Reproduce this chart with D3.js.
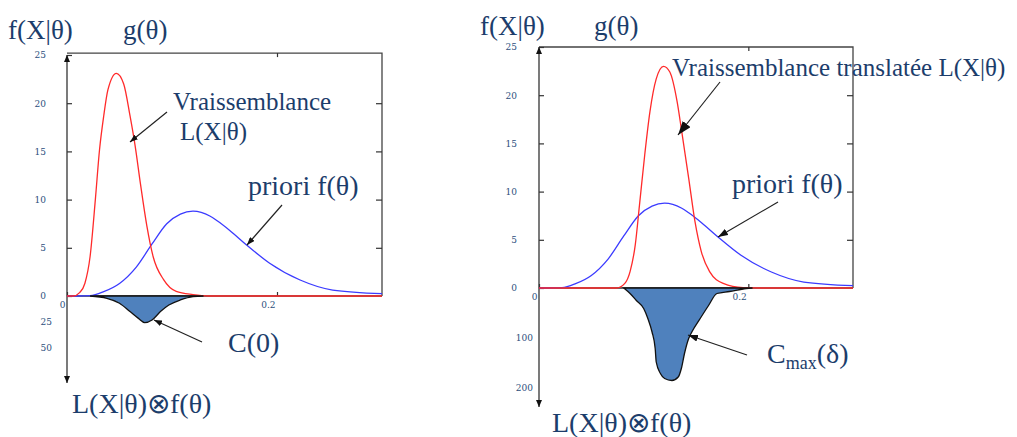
<!DOCTYPE html>
<html>
<head>
<meta charset="utf-8">
<script src="https://cdn.jsdelivr.net/npm/d3@7"></script>
<style>
body { margin: 0; background: #fff; }
svg { display: block; }
</style>
</head>
<body>
<svg id="chart" width="1017" height="437"></svg>
<script>
// values (theta, density)
var priorTheta = [0, 0.01, 0.022, 0.035, 0.05, 0.066, 0.081, 0.095, 0.108, 0.12, 0.136, 0.143, 0.155, 0.171, 0.193, 0.222, 0.253, 0.3];
var priorVal   = [0, 0, 0.03, 0.45, 1.3, 3.0, 5.4, 7.5, 8.5, 8.8, 8.3, 7.8, 6.8, 5.3, 3.4, 1.66, 0.62, 0.25];

var likLTheta = [0, 0.006, 0.012, 0.017, 0.022, 0.027, 0.031, 0.035, 0.039, 0.047, 0.054, 0.06, 0.065, 0.07, 0.076, 0.082, 0.092, 0.104, 0.12, 0.135, 0.3];
var likLVal   = [0, 0, 0.35, 1.3, 4.1, 10, 15.2, 18.7, 21.4, 23.1, 22.0, 18.7, 15.5, 11.6, 7.3, 4.1, 1.7, 0.48, 0.14, 0, 0];

var likRTheta = [0, 0.074, 0.082, 0.087, 0.092, 0.096, 0.101, 0.106, 0.112, 0.119, 0.125, 0.132, 0.136, 0.143, 0.149, 0.155, 0.163, 0.176, 0.195, 0.21, 0.3];
var likRVal   = [0, 0, 0.48, 1.7, 4.5, 8.6, 13.8, 18.3, 21.7, 23, 22.4, 19.3, 16.5, 11.4, 6.9, 3.8, 1.7, 0.48, 0.03, 0, 0];

// product L x f, drawn downward
var convLTheta = [0.022, 0.038, 0.05, 0.06, 0.068, 0.074, 0.081, 0.089, 0.097, 0.108, 0.12, 0.13];
var convLVal   = [0, 2.2, 7, 15, 21.5, 25.6, 23, 15, 8.7, 3.8, 0.6, 0];

var convRTheta = [0.081, 0.087, 0.093, 0.1, 0.104, 0.108, 0.111, 0.112, 0.116, 0.12, 0.127, 0.133, 0.136, 0.139, 0.143, 0.146, 0.154, 0.162, 0.17, 0.182, 0.198, 0.204];
var convRVal   = [0, 11, 25, 41, 61, 88, 121, 148, 171, 181, 185, 178, 161, 131, 101, 88, 61, 35, 11, 7, 1, 0];

var upTicks = [0, 5, 10, 15, 20, 25];

var navy = "#1c3d6b";
var svg = d3.select("#chart");
var defs = svg.append("defs");

function marker(id, len, wid) {
  defs.append("marker")
      .attr("id", id)
      .attr("viewBox", "0 0 " + len + " " + wid)
      .attr("refX", len).attr("refY", wid / 2)
      .attr("markerWidth", len).attr("markerHeight", wid)
      .attr("markerUnits", "userSpaceOnUse")
      .attr("orient", "auto")
    .append("path")
      .attr("d", "M0,0L" + len + "," + wid / 2 + "L0," + wid + "Z")
      .attr("fill", "#111");
}
marker("ah-s", 8, 6);
marker("ah-m", 10, 7);
marker("ah-l", 14, 10);
marker("ah-ax", 7, 6);

var panels = [
  {
    left: 67, right: 382, base: 296, top: 55, frameMax: 25.2,
    downMax: 50, downEnd: 348, downTicks: [25, 50], arrowEnd: 383,
    padUp: 21, padDown: 15,
    lik: [likLTheta, likLVal], conv: [convLTheta, convLVal],
    arrows: [[167, 112, 130, 142, "ah-s"], [282, 205, 247, 245, "ah-s"], [202, 342, 154, 320, "ah-s"]],
    texts: [
      ["f(X|θ)", 8, 39, 27], ["g(θ)", 123, 39, 27],
      ["Vraissemblance", 173, 110, 25], ["L(X|θ)", 180, 140, 25],
      ["priori f(θ)", 248, 195, 28], ["C(0)", 228, 352, 28],
      ["L(X|θ)⊗f(θ)", 72, 413, 28]
    ]
  },
  {
    left: 539, right: 853, base: 288, top: 47, frameMax: 25,
    downMax: 200, downEnd: 388, downTicks: [100, 200], arrowEnd: 407,
    padUp: 22, padDown: 6,
    lik: [likRTheta, likRVal], conv: [convRTheta, convRVal],
    arrows: [[720, 82, 678, 135, "ah-l"], [778, 202, 718, 237, "ah-m"], [747, 355, 688, 335, "ah-m"]],
    texts: [
      ["f(X|θ)", 480, 35, 27], ["g(θ)", 594, 35, 27],
      ["Vraissemblance translatée L(X|θ)", 672, 76, 25],
      ["priori f(θ)", 732, 193, 28],
      ["L(X|θ)⊗f(θ)", 552, 432, 28]
    ],
    cmax: [767, 363]
  }
];

function styleTicks(sel) {
  sel.select(".domain").remove();
  sel.selectAll(".tick line").attr("stroke", "#333").attr("stroke-width", 1.2);
  sel.selectAll(".tick text")
      .attr("fill", "#2c4f7c")
      .style("font-family", "'DejaVu Serif', serif")
      .style("font-size", "9px");
}

panels.forEach(function(p) {
  var x = d3.scaleLinear().domain([0, 0.3]).range([p.left, p.right]);
  var y = d3.scaleLinear().domain([0, 25]).range([p.base, p.top]);
  var yd = d3.scaleLinear().domain([0, p.downMax]).range([p.base, p.downEnd]);
  var g = svg.append("g");

  // frame: top and right sides
  g.append("path")
      .attr("d", "M" + p.left + "," + y(p.frameMax) + "H" + p.right + "V" + p.base)
      .attr("fill", "none").attr("stroke", "#444").attr("stroke-width", 1.3);

  // upward density ticks
  g.append("g").attr("transform", "translate(" + p.left + ",0)")
      .call(d3.axisLeft(y).tickValues(upTicks).tickSize(-5).tickPadding(p.padUp))
      .call(styleTicks);
  // right side ticks
  g.append("g").attr("transform", "translate(" + p.right + ",0)")
      .call(d3.axisLeft(y).tickValues(upTicks.slice(1, 5)).tickSize(6).tickFormat(""))
      .call(styleTicks);
  // downward scale for the product
  g.append("g").attr("transform", "translate(" + p.left + ",0)")
      .call(d3.axisLeft(yd).tickValues(p.downTicks).tickSize(0).tickPadding(p.padDown))
      .call(styleTicks);
  // theta axis
  g.append("g").attr("transform", "translate(0," + p.base + ")")
      .call(d3.axisBottom(x).tickValues([0, 0.2]).tickSize(-4).tickPadding(6)
        .tickFormat(function(d) { return d === 0 ? "0" : d3.format(".1f")(d); }))
      .call(styleTicks)
    .selectAll("text").attr("text-anchor", "end").attr("dx", -2);
  g.append("g").attr("transform", "translate(0," + y(p.frameMax) + ")")
      .call(d3.axisBottom(x).tickValues([0.2]).tickSize(4).tickFormat(""))
      .call(styleTicks);

  // axes lines
  g.append("line")
      .attr("x1", p.left).attr("x2", p.right).attr("y1", p.base).attr("y2", p.base)
      .attr("stroke", "#333").attr("stroke-width", 1.3);
  g.append("line")
      .attr("x1", p.left).attr("x2", p.left).attr("y1", p.base).attr("y2", y(25))
      .attr("stroke", "#333").attr("stroke-width", 1.3).attr("marker-end", "url(#ah-ax)");
  g.append("line")
      .attr("x1", p.left).attr("x2", p.left).attr("y1", p.base).attr("y2", p.arrowEnd)
      .attr("stroke", "#333").attr("stroke-width", 1.3).attr("marker-end", "url(#ah-ax)");

  var line = d3.line()
      .x(function(d) { return x(d[0]); })
      .y(function(d) { return y(d[1]); })
      .curve(d3.curveMonotoneX);

  g.append("path")
      .datum(d3.zip(priorTheta, priorVal))
      .attr("d", line)
      .attr("fill", "none").attr("stroke", "#3b3bff").attr("stroke-width", 1.3);

  g.append("path")
      .datum(d3.zip(p.lik[0], p.lik[1]))
      .attr("d", line)
      .attr("fill", "none").attr("stroke", "#ff2a2a").attr("stroke-width", 1.3);

  var area = d3.area()
      .x(function(d) { return x(d[0]); })
      .y0(p.base)
      .y1(function(d) { return yd(d[1]); })
      .curve(d3.curveMonotoneX);

  g.append("path")
      .datum(d3.zip(p.conv[0], p.conv[1]))
      .attr("d", area)
      .attr("fill", "#4f81bd").attr("stroke", "#111").attr("stroke-width", 1.3);

  // annotation arrows
  g.selectAll(".arrow").data(p.arrows).enter().append("line")
      .attr("class", "arrow")
      .attr("x1", function(d) { return d[0]; }).attr("y1", function(d) { return d[1]; })
      .attr("x2", function(d) { return d[2]; }).attr("y2", function(d) { return d[3]; })
      .attr("stroke", "#222").attr("stroke-width", 1.2)
      .attr("marker-end", function(d) { return "url(#" + d[4] + ")"; });

  g.selectAll(".lbl").data(p.texts).enter().append("text")
      .attr("class", "lbl")
      .attr("x", function(d) { return d[1]; })
      .attr("y", function(d) { return d[2]; })
      .style("font-family", "'Liberation Serif', 'Times New Roman', serif")
      .style("font-size", function(d) { return d[3] + "px"; })
      .attr("fill", navy)
      .text(function(d) { return d[0]; });

  if (p.cmax) {
    var t = g.append("text")
        .attr("x", p.cmax[0]).attr("y", p.cmax[1])
        .style("font-family", "'Liberation Serif', 'Times New Roman', serif")
        .style("font-size", "28px")
        .attr("fill", navy);
    t.append("tspan").text("C");
    t.append("tspan").attr("dy", 6).style("font-size", "18px").text("max");
    t.append("tspan").attr("dy", -6).text("(δ)");
  }
});
</script>
</body>
</html>
